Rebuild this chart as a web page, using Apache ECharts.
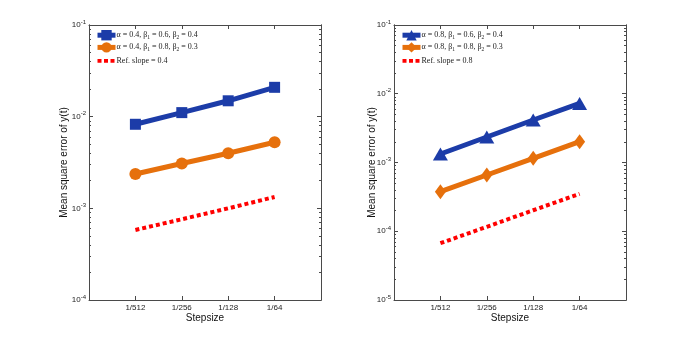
<!DOCTYPE html>
<html><head><meta charset="utf-8">
<script src="https://cdn.jsdelivr.net/npm/echarts@6/dist/echarts.min.js"></script>
<style>html,body{margin:0;padding:0;background:#fff}#c{width:692px;height:339px}</style>
</head><body><div id="c"></div>
<script>
// ---- data ----
const stepsizes = [1/512, 1/256, 1/128, 1/64];
const xTickLabels = ['1/512', '1/256', '1/128', '1/64'];
const leftYTicks = [1e-4, 1e-3, 1e-2, 1e-1];
const rightYTicks = [1e-5, 1e-4, 1e-3, 1e-2, 1e-1];

const leftNames = ['α = 0.4, β1 = 0.6, β2 = 0.4', 'α = 0.4, β1 = 0.8, β2 = 0.3', 'Ref. slope = 0.4'];
const leftBlue = [8.26e-3, 1.107e-2, 1.49e-2, 2.09e-2];
const leftOrange = [2.37e-3, 3.08e-3, 3.99e-3, 5.26e-3];
const leftRef = [5.81e-4, 7.6e-4, 1.0e-3, 1.33e-3];

const rightNames = ['α = 0.8, β1 = 0.6, β2 = 0.4', 'α = 0.8, β1 = 0.8, β2 = 0.3', 'Ref. slope = 0.8'];
const rightBlue = [1.33e-3, 2.35e-3, 4.15e-3, 7.22e-3];
const rightOrange = [3.76e-4, 6.58e-4, 1.15e-3, 2.01e-3];
const rightRef = [6.7e-5, 1.16e-4, 2.02e-4, 3.5e-4];

// ---- styles ----
const BLUE = '#1c3ca8', ORANGE = '#e6700c', RED = '#ff0000', AX = '#4a4a4a';
const sansFont = '"Liberation Sans", Arial, sans-serif';
const serifFont = '"Liberation Serif", "Times New Roman", serif';
const DASH_ICON = 'path://M0,0L0.01,0L0.01,0.01ZM18,13L17.99,13L17.99,12.99Z' +
  'M0,4.7h4v3.6h-4zM6.5,4.7h4v3.6h-4zM13,4.7h4v3.6h-4z';

function minorValues(lo, hi) {
  const out = [];
  for (let e = Math.round(Math.log10(lo)); e < Math.round(Math.log10(hi)); e++) {
    for (let k = 2; k <= 9; k++) out.push(k * Math.pow(10, e));
  }
  return out;
}
function pair(xs, ys) { return xs.map((x, i) => [x, ys[i]]); }
function xLabel(v) {
  const i = stepsizes.findIndex(s => Math.abs(s - v) / s < 1e-6);
  return i >= 0 ? xTickLabels[i] : '';
}
function yLabel(v) { return '10{sup|' + Math.round(Math.log10(v)) + '}'; }
function legendFmt(name) {
  return name.replace(/β(\d)/g, 'β{sub|$1}');
}

const grids = [
  {left: 89, top: 25, width: 232, height: 275},
  {left: 394, top: 25, width: 232, height: 275}
];
const xMin = 1/1024, xMax = 1/32;
const nameGaps = [20, 17];

const xAxes = [], yAxes = [], series = [], legends = [];
[[leftYTicks, leftNames, leftBlue, leftOrange, leftRef, 'rect', 'circle', [11, 11], [12, 12]],
 [rightYTicks, rightNames, rightBlue, rightOrange, rightRef, 'triangle', 'diamond', [15, 13], [11, 15]]]
.forEach((cfg, g) => {
  const [yt, names, b, o, r, symB, symO, sizeB, sizeO] = cfg;
  const yMin = yt[0], yMax = yt[yt.length - 1];
  const baseX = {gridIndex: g, type: 'log', logBase: 2, min: xMin, max: xMax,
    splitLine: {show: false}, axisLine: {onZero: false, lineStyle: {color: AX, width: 1}}};
  xAxes.push(Object.assign({}, baseX, {position: 'bottom',
    name: 'Stepsize', nameLocation: 'middle', nameGap: 13, nameMoveOverlap: false,
    nameTextStyle: {fontFamily: sansFont, fontSize: 10, color: '#111'},
    axisTick: {inside: true, length: 4, customValues: stepsizes, lineStyle: {color: AX}},
    axisLabel: {customValues: stepsizes, formatter: xLabel, fontFamily: sansFont, fontSize: 8, color: '#222', margin: 4}}));
  xAxes.push(Object.assign({}, baseX, {position: 'top',
    axisTick: {inside: true, length: 4, customValues: stepsizes, lineStyle: {color: AX}},
    axisLabel: {show: false}}));
  const baseY = {gridIndex: g, type: 'log', min: yMin, max: yMax, splitLine: {show: false},
    axisLine: {onZero: false, lineStyle: {color: AX, width: 1}}};
  yAxes.push(Object.assign({}, baseY, {position: 'left',
    name: 'Mean square error of y(t)', nameLocation: 'middle', nameGap: nameGaps[g], nameMoveOverlap: false,
    nameTextStyle: {fontFamily: sansFont, fontSize: 10, color: '#111'},
    axisTick: {inside: true, length: 4, customValues: yt, lineStyle: {color: AX}},
    axisLabel: {customValues: yt, formatter: yLabel, fontFamily: sansFont, fontSize: 8, color: '#222', margin: 3,
      rich: {sup: {fontSize: 6, fontFamily: sansFont, color: '#222', padding: [0, 0, 6, 0]}}}}));
  yAxes.push(Object.assign({}, baseY, {position: 'left',
    axisTick: {inside: true, length: 2, customValues: minorValues(yMin, yMax), lineStyle: {color: AX}},
    axisLabel: {show: false}}));
  yAxes.push(Object.assign({}, baseY, {position: 'right',
    axisTick: {inside: true, length: 4, customValues: yt, lineStyle: {color: AX}},
    axisLabel: {show: false}}));
  yAxes.push(Object.assign({}, baseY, {position: 'right',
    axisTick: {inside: true, length: 2, customValues: minorValues(yMin, yMax), lineStyle: {color: AX}},
    axisLabel: {show: false}}));
  const xi = g * 2, yi = g * 4;
  series.push({type: 'line', name: names[0], xAxisIndex: xi, yAxisIndex: yi, data: pair(stepsizes, b),
    symbol: symB, symbolSize: sizeB, lineStyle: {color: BLUE, width: 5}, itemStyle: {color: BLUE}, z: 3});
  series.push({type: 'line', name: names[1], xAxisIndex: xi, yAxisIndex: yi, data: pair(stepsizes, o),
    symbol: symO, symbolSize: sizeO, lineStyle: {color: ORANGE, width: 5}, itemStyle: {color: ORANGE}, z: 3});
  series.push({type: 'line', name: names[2], xAxisIndex: xi, yAxisIndex: yi, data: pair(stepsizes, r),
    symbol: 'none',
    lineStyle: {color: RED, width: 4, type: [4, 3]}, itemStyle: {color: RED}, z: 3});
  legends.push({data: [names[0], names[1], {name: names[2], icon: DASH_ICON}],
    left: grids[g].left + 6, top: 30, orient: 'vertical', itemGap: 1.5,
    itemWidth: 18, itemHeight: 13, padding: 0,
    lineStyle: {width: 5},
    formatter: legendFmt,
    textStyle: {fontFamily: serifFont, fontSize: 8, color: '#222', padding: [0, 0, 0, -4],
      rich: {sub: {fontFamily: serifFont, fontSize: 5.5, color: '#222', padding: [5, 0, 0, 0]}}}});
});

const chart = echarts.init(document.getElementById('c'), null, {renderer: 'canvas'});
chart.setOption({
  animation: false,
  backgroundColor: '#fff',
  grid: grids,
  xAxis: xAxes,
  yAxis: yAxes,
  legend: legends,
  series: series
});
</script></body></html>
